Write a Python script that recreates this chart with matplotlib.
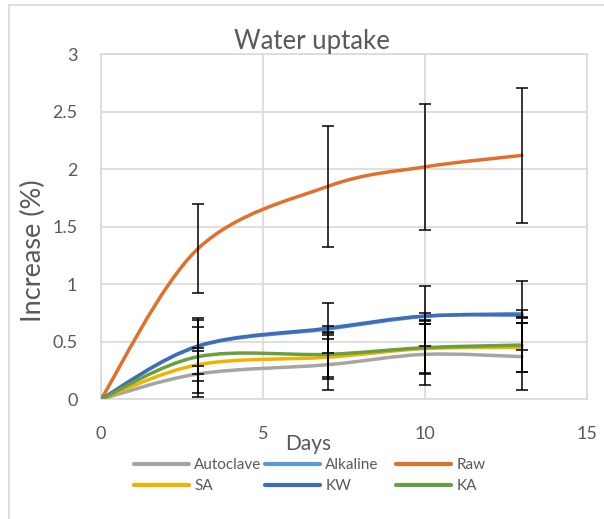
import matplotlib.pyplot as plt
from matplotlib.path import Path
from matplotlib.patches import PathPatch
from matplotlib.lines import Line2D

plt.rcParams['font.family'] = ['Lato', 'DejaVu Sans']

# --- data ---
days = [0, 3, 7, 10, 13]
names = ["Autoclave", "Alkaline", "Raw", "SA", "KW", "KA"]
autoclave = [0, 0.22, 0.30, 0.39, 0.37]
alkaline = [0, 0.46, 0.61, 0.72, 0.745]
raw = [0, 1.31, 1.85, 2.02, 2.12]
sa = [0, 0.30, 0.365, 0.44, 0.45]
kw = [0, 0.463, 0.617, 0.723, 0.732]
ka = [0, 0.37, 0.39, 0.448, 0.471]

autoclave_err = [0, 0.20, 0.22, 0.265, 0.29]
alkaline_err = [0, 0.17, 0.03, 0.03, 0.03]
raw_err = [0, 0.39, 0.525, 0.545, 0.59]
sa_err = [0, 0.145, 0.19, 0.21, 0.21]
kw_err = [0, 0.246, 0.217, 0.26, 0.30]
ka_err = [0, 0.32, 0.197, 0.23, 0.238]

series = [autoclave, alkaline, raw, sa, kw, ka]
errors = [autoclave_err, alkaline_err, raw_err, sa_err, kw_err, ka_err]
colors = ["#A5A5A5", "#5B9BD5", "#E0702A", "#F0B400", "#3F6DB8", "#6A9F3F"]

TXT = "#595959"


def smooth_path(x, y):
    # Excel-like smooth line: bezier segments, control points from neighbours / 6
    pts = list(zip(x, y))
    n = len(pts)
    verts = [pts[0]]
    codes = [Path.MOVETO]
    for i in range(n - 1):
        p0 = pts[max(i - 1, 0)]
        p1 = pts[i]
        p2 = pts[i + 1]
        p3 = pts[min(i + 2, n - 1)]
        c1 = (p1[0] + (p2[0] - p0[0]) / 6, p1[1] + (p2[1] - p0[1]) / 6)
        c2 = (p2[0] - (p3[0] - p1[0]) / 6, p2[1] - (p3[1] - p1[1]) / 6)
        verts += [c1, c2, p2]
        codes += [Path.CURVE4] * 3
    return Path(verts, codes)


fig = plt.figure(figsize=(6.04, 5.19), dpi=100)
ax = fig.add_axes([101 / 604, 1 - 399.2 / 519, (586.7 - 101) / 604, (399.2 - 54.2) / 519])

for vals, err, c in zip(series, errors, colors):
    ax.add_patch(PathPatch(smooth_path(days, vals), fill=False, edgecolor=c,
                           lw=2.5, capstyle='round', zorder=3))
for vals, err in zip(series, errors):
    ax.errorbar(days[1:], vals[1:], yerr=err[1:], fmt='none', ecolor='black',
                elinewidth=1.1, capsize=4.5, capthick=1.1, zorder=4)

ax.set_xlim(0, 15)
ax.set_ylim(0, 3)
ax.set_xticks([0, 5, 10, 15])
ax.set_yticks([0, 0.5, 1, 1.5, 2, 2.5, 3])
ax.set_yticklabels(["0", "0.5", "1", "1.5", "2", "2.5", "3"])
ax.grid(True, color="#D9D9D9", lw=1.2, zorder=0)
ax.set_axisbelow(True)
for s in ax.spines.values():
    s.set_color("#D9D9D9")
    s.set_linewidth(1.2)
ax.tick_params(length=0, labelsize=13, colors=TXT)
ax.tick_params(axis='x', pad=19)
ax.tick_params(axis='y', pad=17)

fig.text(312 / 604, 1 - 42 / 519, "Water uptake", ha='center', va='center',
         fontsize=18.5, color=TXT)
fig.text(308 / 604, 1 - 444 / 519, "Days", ha='center', va='center',
         fontsize=15, color=TXT)
fig.text(33 / 604, 1 - 251 / 519, "Increase (%)", ha='center', va='center',
         rotation=90, fontsize=19.5, color=TXT)

# chart frame (left and top edge visible)
fig.add_artist(Line2D([9 / 604, 9 / 604], [0, 1 - 5 / 519], color="#D9D9D9", lw=1.2))
fig.add_artist(Line2D([9 / 604, 1], [1 - 5 / 519, 1 - 5 / 519], color="#D9D9D9", lw=1.2))

# legend: three columns of two entries
handles = [Line2D([], [], color=c, lw=3, solid_capstyle='round') for c in colors]
columns = [(0, 3, 134), (1, 4, 265), (2, 5, 396)]
for a, b, xpx in columns:
    leg = fig.legend([handles[a], handles[b]], [names[a], names[b]],
                     loc='upper left', bbox_to_anchor=(xpx / 604, 1 - 458 / 519),
                     frameon=False, fontsize=11, handlelength=3.6,
                     handletextpad=0.35, labelspacing=0.45, borderpad=0,
                     borderaxespad=0, labelcolor=TXT)

fig.savefig("out.png", dpi=100)
